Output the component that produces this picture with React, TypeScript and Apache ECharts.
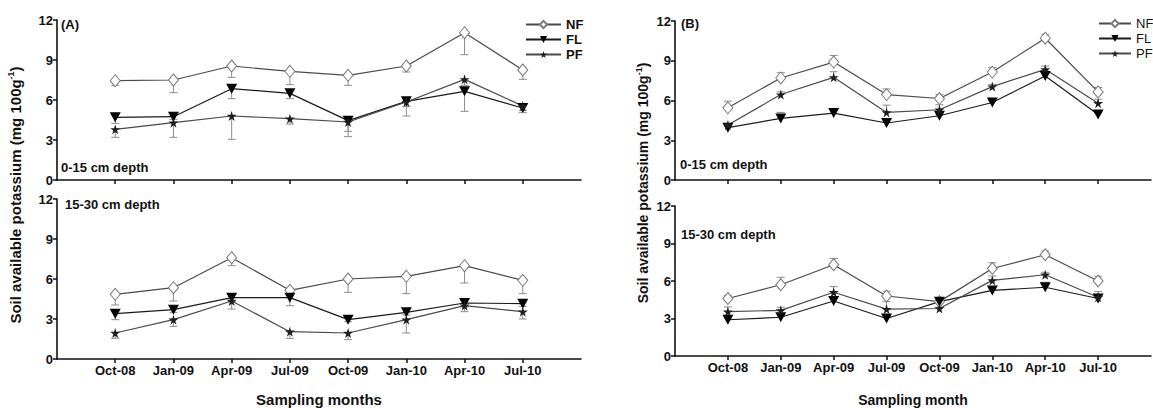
import React, { useEffect, useRef } from "react";
import * as echarts from "echarts";

const categories = ["", "Oct-08", "Jan-09", "Apr-09", "Jul-09", "Oct-09", "Jan-10", "Apr-10", "Jul-10", ""];
const yTicks = { min: 0, max: 12, interval: 3 };

// Panel A, 0-15 cm (error bars drawn downward)
const aTopNF = [7.45, 7.5, 8.55, 8.15, 7.85, 8.55, 11.05, 8.25];
const aTopNFErr = [0.35, 0.95, 0.85, 1.0, 0.75, 0.45, 1.65, 0.7];
const aTopFL = [4.7, 4.75, 6.85, 6.5, 4.45, 5.9, 6.65, 5.4];
const aTopFLErr = [0.45, 0.2, 0.75, 0.4, 0.8, 1.1, 1.5, 0.2];
const aTopPF = [3.8, 4.3, 4.8, 4.6, 4.35, 5.85, 7.55, 5.55];
const aTopPFErr = [0.6, 1.1, 1.75, 0.4, 1.1, 0.35, 0.45, 0.5];

// Panel A, 15-30 cm
const aBotNF = [4.85, 5.35, 7.6, 5.15, 6.0, 6.2, 7.0, 5.9];
const aBotNFErr = [0.8, 1.0, 0.6, 0.3, 1.0, 1.3, 1.3, 1.0];
const aBotFL = [3.4, 3.7, 4.6, 4.6, 2.95, 3.5, 4.2, 4.15];
const aBotFLErr = [0.45, 0.2, 0.3, 0.6, 0.15, 0.2, 0.3, 0.2];
const aBotPF = [1.95, 2.95, 4.35, 2.05, 1.95, 2.95, 4.0, 3.55];
const aBotPFErr = [0.4, 0.5, 0.6, 0.5, 0.5, 1.0, 0.45, 0.55];

// Panel B, 0-15 cm (error bars drawn upward)
const bTopNF = [5.45, 7.7, 8.9, 6.45, 6.15, 8.15, 10.7, 6.65];
const bTopNFErr = [0.5, 0.4, 0.5, 0.42, 0.3, 0.33, 0.3, 0.33];
const bTopFL = [3.95, 4.65, 5.05, 4.3, 4.85, 5.85, 7.85, 4.95];
const bTopFLErr = [0.1, 0.45, 0.3, 0.25, 0.1, 0.15, 0.2, 0.1];
const bTopPF = [4.15, 6.45, 7.75, 5.1, 5.3, 7.05, 8.35, 5.8];
const bTopPFErr = [0.1, 0.2, 0.42, 0.55, 0.38, 0.15, 0.25, 0.3];

// Panel B, 15-30 cm
const bBotNF = [4.6, 5.7, 7.3, 4.8, 4.35, 7.0, 8.1, 6.0];
const bBotNFErr = [0.25, 0.6, 0.5, 0.38, 0.33, 0.46, 0.3, 0.38];
const bBotFL = [2.9, 3.1, 4.4, 3.0, 4.35, 5.25, 5.5, 4.6];
const bBotFLErr = [0.15, 0.15, 0.2, 0.15, 0.15, 0.15, 0.4, 0.15];
const bBotPF = [3.55, 3.65, 5.1, 3.75, 3.8, 6.05, 6.5, 4.7];
const bBotPFErr = [0.38, 0.25, 0.45, 0.6, 0.1, 0.35, 0.2, 0.45];

const FONT = "Liberation Sans, Arial, sans-serif";
const STAR = "path://M50,0 L61,35 L98,35 L68,57 L79,91 L50,70 L21,91 L32,57 L2,35 L39,35 Z";

const seriesStyle: Record<string, any> = {
  NF: {
    symbol: "diamond",
    symbolSize: [10, 12],
    itemStyle: { color: "#ffffff", borderColor: "#7a7a7a", borderWidth: 1 },
    lineStyle: { color: "#4a4a4a", width: 1.2 },
  },
  FL: {
    symbol: "triangle",
    symbolRotate: 180,
    symbolSize: [11, 10],
    itemStyle: { color: "#000000" },
    lineStyle: { color: "#1a1a1a", width: 1.2 },
  },
  PF: {
    symbol: STAR,
    symbolSize: 10,
    itemStyle: { color: "#1e1e1e" },
    lineStyle: { color: "#4a4a4a", width: 1.2 },
  },
};

function lineSeries(name: string, vals: number[], idx: number) {
  return {
    type: "line",
    name,
    xAxisIndex: idx,
    yAxisIndex: idx,
    data: vals.map((v, i) => [i + 1, v]),
    z: 3,
    ...seriesStyle[name],
  };
}

function errSeries(vals: number[], errs: number[], dir: number, idx: number) {
  return {
    type: "custom",
    xAxisIndex: idx,
    yAxisIndex: idx,
    z: 2,
    silent: true,
    data: vals.map((v, i) => [i + 1, v, v + dir * errs[i]]),
    renderItem: (params: any, api: any) => {
      const x = api.value(0);
      const p1 = api.coord([x, api.value(1)]);
      const p2 = api.coord([x, api.value(2)]);
      const st = { stroke: "#8c8c8c", lineWidth: 1 };
      return {
        type: "group",
        children: [
          { type: "line", shape: { x1: p1[0], y1: p1[1], x2: p2[0], y2: p2[1] }, style: st },
          { type: "line", shape: { x1: p2[0] - 4, y1: p2[1], x2: p2[0] + 4, y2: p2[1] }, style: st },
        ],
      };
    },
  };
}

const grids = [
  { left: 57, top: 20, width: 524, height: 160 },
  { left: 57, top: 199, width: 524, height: 161 },
  { left: 675, top: 21, width: 476, height: 159 },
  { left: 675, top: 206, width: 476, height: 157 },
];

const inRange = (i: number) => i > 0 && i < 9;

function xAxis(idx: number, showLabels: boolean, name: string, nameSize: number, nameGap: number) {
  return {
    type: "category",
    gridIndex: idx,
    data: categories,
    boundaryGap: false,
    name: showLabels ? name : "",
    nameLocation: "middle",
    nameGap,
    nameTextStyle: { fontFamily: FONT, fontWeight: "bold", fontSize: nameSize, color: "#111" },
    axisLine: { show: true, lineStyle: { color: "#111", width: 1.6 } },
    axisTick: { show: true, interval: (i: number) => inRange(i), length: 4, lineStyle: { color: "#111", width: 1.5 } },
    axisLabel: {
      show: showLabels,
      interval: (i: number) => inRange(i),
      margin: 5,
      fontFamily: FONT,
      fontWeight: "bold",
      fontSize: 13,
      color: "#111",
    },
    splitLine: { show: false },
  };
}

function yAxis(idx: number) {
  return {
    type: "value",
    gridIndex: idx,
    min: yTicks.min,
    max: yTicks.max,
    interval: yTicks.interval,
    axisLine: { show: true, lineStyle: { color: "#111", width: 1.6 } },
    axisTick: { show: true, length: 4, lineStyle: { color: "#111", width: 1.5 } },
    axisLabel: { margin: 4, fontFamily: FONT, fontWeight: "bold", fontSize: 13, color: "#111" },
    splitLine: { show: false },
  };
}

function label(text: string, left: number, top: number, size = 13) {
  return {
    type: "text",
    left,
    top,
    style: { text, font: `bold ${size}px ${FONT}`, fill: "#111" },
  };
}

function yTitle(x: number, y: number, size: number) {
  return {
    type: "text",
    x,
    y,
    rotation: Math.PI / 2,
    style: {
      x: 0,
      y: 0,
      text: "Soil available potassium (mg 100g{sup|-1})",
      align: "center",
      verticalAlign: "middle",
      font: `bold ${size}px ${FONT}`,
      fill: "#111",
      rich: {
        sup: { fontSize: Math.round(size * 0.62), fontWeight: "bold", fontFamily: FONT, padding: [0, 0, 9, 0] },
      },
    },
  };
}

export default function App() {
  const ref = useRef<HTMLDivElement>(null);
  useEffect(() => {
    if (!ref.current) return;
    const chart = echarts.init(ref.current, undefined, { renderer: "svg" });
    const option = {
      animation: false,
      backgroundColor: "#ffffff",
      grid: grids,
      xAxis: [
        xAxis(0, false, "", 15, 33),
        xAxis(1, true, "Sampling months", 15, 33),
        xAxis(2, false, "", 14, 37),
        xAxis(3, true, "Sampling month", 14, 37),
      ],
      yAxis: [yAxis(0), yAxis(1), yAxis(2), yAxis(3)],
      legend: [
        {
          left: 525,
          top: 18,
          orient: "vertical",
          itemWidth: 35,
          itemHeight: 9,
          itemGap: 2,
          itemTextGap: 4,
          padding: 0,
          selectedMode: false,
          data: ["NF", "FL", "PF"],
          textStyle: { fontFamily: FONT, fontWeight: "bold", fontSize: 13, color: "#111" },
        },
        {
          left: 1098,
          top: 17,
          orient: "vertical",
          itemWidth: 32,
          itemHeight: 9,
          itemGap: 2,
          itemTextGap: 4,
          padding: 0,
          selectedMode: false,
          data: ["NF", "FL", "PF"],
          textStyle: { fontFamily: FONT, fontWeight: "normal", fontSize: 13, color: "#111" },
        },
      ],
      graphic: [
        label("(A)", 61, 18, 13),
        label("(B)", 681, 17, 13),
        label("0-15 cm depth", 61, 161),
        label("15-30 cm depth", 65, 198),
        label("0-15 cm depth", 680, 158),
        label("15-30 cm depth", 681, 228),
        yTitle(15, 195, 15),
        yTitle(643, 183, 14),
      ],
      series: [
        errSeries(aTopNF, aTopNFErr, -1, 0),
        errSeries(aTopFL, aTopFLErr, -1, 0),
        errSeries(aTopPF, aTopPFErr, -1, 0),
        lineSeries("NF", aTopNF, 0),
        lineSeries("FL", aTopFL, 0),
        lineSeries("PF", aTopPF, 0),
        errSeries(aBotNF, aBotNFErr, -1, 1),
        errSeries(aBotFL, aBotFLErr, -1, 1),
        errSeries(aBotPF, aBotPFErr, -1, 1),
        lineSeries("NF", aBotNF, 1),
        lineSeries("FL", aBotFL, 1),
        lineSeries("PF", aBotPF, 1),
        errSeries(bTopNF, bTopNFErr, 1, 2),
        errSeries(bTopFL, bTopFLErr, 1, 2),
        errSeries(bTopPF, bTopPFErr, 1, 2),
        lineSeries("NF", bTopNF, 2),
        lineSeries("FL", bTopFL, 2),
        lineSeries("PF", bTopPF, 2),
        errSeries(bBotNF, bBotNFErr, 1, 3),
        errSeries(bBotFL, bBotFLErr, 1, 3),
        errSeries(bBotPF, bBotPFErr, 1, 3),
        lineSeries("NF", bBotNF, 3),
        lineSeries("FL", bBotFL, 3),
        lineSeries("PF", bBotPF, 3),
      ],
    };
    chart.setOption(option as any);
    return () => chart.dispose();
  }, []);
  return <div ref={ref} style={{ position: "fixed", left: 0, top: 0, width: 1153, height: 408 }} />;
}
